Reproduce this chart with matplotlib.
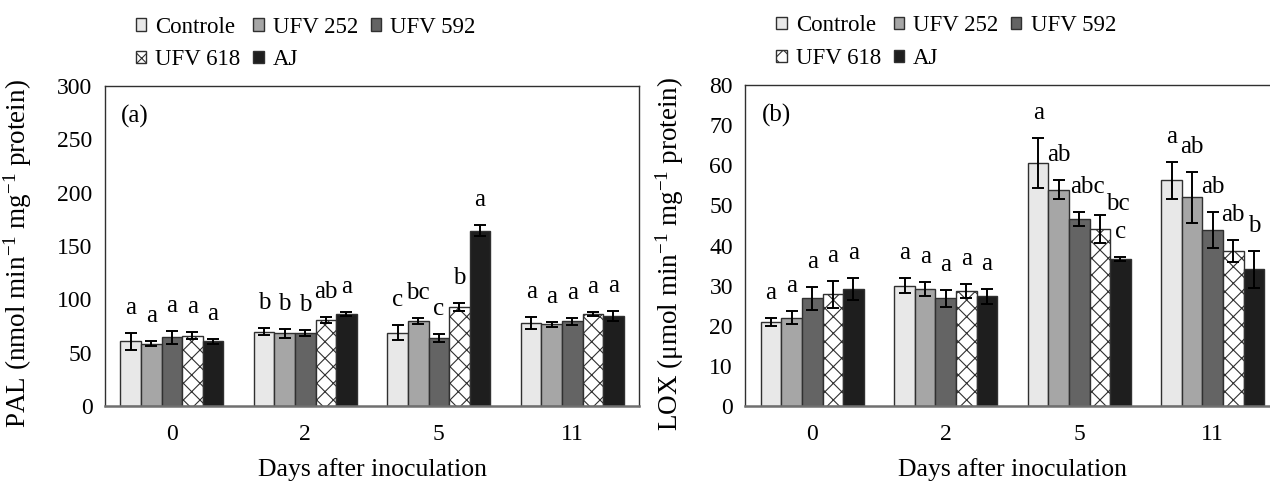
import numpy as np
import matplotlib
matplotlib.use('Agg')
import matplotlib.pyplot as plt

plt.rcParams['font.family'] = ['Liberation Serif', 'DejaVu Serif']
plt.rcParams['mathtext.fontset'] = 'custom'
plt.rcParams['mathtext.rm'] = 'Liberation Serif'
plt.rcParams['mathtext.it'] = 'Liberation Serif:italic'
plt.rcParams['hatch.linewidth'] = 0.8

days = ['0', '2', '5', '11']
series = ['Controle', 'UFV 252', 'UFV 592', 'UFV 618', 'AJ']

# PAL (nmol min-1 mg-1 protein)
pal_controle = [60.5, 69.5, 68.5, 77.5]
pal_ufv252 = [58.5, 68.0, 79.5, 76.5]
pal_ufv592 = [64.5, 68.0, 64.0, 79.5]
pal_ufv618 = [66.0, 80.5, 93.0, 86.0]
pal_aj = [60.5, 86.0, 164.5, 84.5]
pal_err_controle = [8.3, 3.3, 7.0, 5.5]
pal_err_ufv252 = [2.5, 4.5, 3.0, 2.5]
pal_err_ufv592 = [6.0, 2.8, 3.7, 3.2]
pal_err_ufv618 = [3.0, 3.0, 3.7, 1.7]
pal_err_aj = [2.7, 1.7, 5.0, 4.5]
pal_letters = [['a', 'b', 'c', 'a'],
               ['a', 'b', 'bc', 'a'],
               ['a', 'b', 'c', 'a'],
               ['a', 'ab', 'b', 'a'],
               ['a', 'a', 'a', 'a']]

# LOX (umol min-1 mg-1 protein)
lox_controle = [20.9, 30.0, 60.6, 56.3]
lox_ufv252 = [22.0, 29.2, 53.9, 52.0]
lox_ufv592 = [26.8, 26.8, 46.6, 43.9]
lox_ufv618 = [27.8, 28.6, 44.0, 38.7]
lox_aj = [29.2, 27.3, 36.6, 34.1]
lox_err_controle = [1.0, 1.8, 6.3, 4.6]
lox_err_ufv252 = [1.6, 1.7, 2.3, 6.4]
lox_err_ufv592 = [2.9, 2.2, 1.7, 4.4]
lox_err_ufv618 = [3.3, 1.7, 3.5, 2.7]
lox_err_aj = [2.8, 1.8, 0.5, 4.6]
lox_letters = [['a', 'a', 'a', 'a'],
               ['a', 'a', 'ab', 'ab'],
               ['a', 'a', 'abc', 'ab'],
               ['a', 'a', 'bc', 'ab'],
               ['a', 'a', 'c', 'b']]

colors = ['#e8e8e8', '#a6a6a6', '#646464', 'white', '#1e1e1e']
hatches = [None, None, None, 'xx', None]

pal_vals = [pal_controle, pal_ufv252, pal_ufv592, pal_ufv618, pal_aj]
pal_errs = [pal_err_controle, pal_err_ufv252, pal_err_ufv592, pal_err_ufv618, pal_err_aj]
lox_vals = [lox_controle, lox_ufv252, lox_ufv592, lox_ufv618, lox_aj]
lox_errs = [lox_err_controle, lox_err_ufv252, lox_err_ufv592, lox_err_ufv618, lox_err_aj]

# small nudges (points) for letters that were shifted in the original
lox_nudge = {(2, 2): (6, 0), (3, 2): (13, -10)}

fig = plt.figure(figsize=(12.7, 4.86), dpi=100)
ax1 = fig.add_axes([0.0827, 0.1646, 0.4205, 0.6584])
ax2 = fig.add_axes([0.587, 0.1646, 0.4205, 0.6605])

x = np.arange(len(days))
w = 0.154


def draw(ax, vals, errs, letters, ymax, step, ylabel, tag, nudge):
    handles = []
    for i in range(len(series)):
        pos = x + (i - 2) * w
        b = ax.bar(pos, vals[i], w, color=colors[i], edgecolor='#303030',
                   linewidth=1.0, hatch=hatches[i], label=series[i], zorder=2)
        ax.errorbar(pos, vals[i], yerr=errs[i], fmt='none', ecolor='black',
                    elinewidth=1.4, capsize=4, capthick=1.4, zorder=3)
        handles.append(b)
        for j in range(len(days)):
            dx, dy = nudge.get((i, j), (0, 0))
            ax.annotate(letters[i][j], (pos[j], vals[i][j] + errs[i][j]),
                        xytext=(dx, 18 + dy), textcoords='offset points',
                        ha='center', va='center', fontsize=18)
    ax.set_xlim(-0.5, 3.5)
    ax.set_ylim(0, ymax)
    ax.set_yticks(np.arange(0, ymax + 1, step))
    ax.set_xticks(x)
    ax.set_xticklabels(days)
    ax.tick_params(axis='both', length=0, labelsize=17)
    ax.tick_params(axis='x', pad=13)
    ax.tick_params(axis='y', pad=9)
    for s in ax.spines.values():
        s.set_color('#303030')
        s.set_linewidth(1.0)
    ax.spines['bottom'].set_color('#707070')
    ax.spines['bottom'].set_linewidth(1.8)
    ax.set_xlabel('Days after inoculation', fontsize=18.5, labelpad=9)
    ax.set_ylabel(ylabel, fontsize=19.5, labelpad=17)
    ax.yaxis.label.set_y(0.475)
    ax.text(0.03, 0.905, tag, transform=ax.transAxes, fontsize=18, va='center')
    order = [0, 3, 1, 4, 2]
    ax.legend([handles[k] for k in order], [series[k] for k in order], ncol=3,
              loc='lower left', bbox_to_anchor=(0.058, 1.05), frameon=False,
              fontsize=16.5, handlelength=0.45, handleheight=0.45,
              handletextpad=0.4, columnspacing=0.55, labelspacing=0.5,
              borderpad=0, borderaxespad=0)


draw(ax1, pal_vals, pal_errs, pal_letters, 300, 50,
     r'PAL (nmol min$^{-1}$ mg$^{-1}$ protein)', '(a)', {})
draw(ax2, lox_vals, lox_errs, lox_letters, 80, 10,
     r'LOX ($\mathregular{\mu}$mol min$^{-1}$ mg$^{-1}$ protein)', '(b)', lox_nudge)

fig.savefig('out.png', dpi=100)
